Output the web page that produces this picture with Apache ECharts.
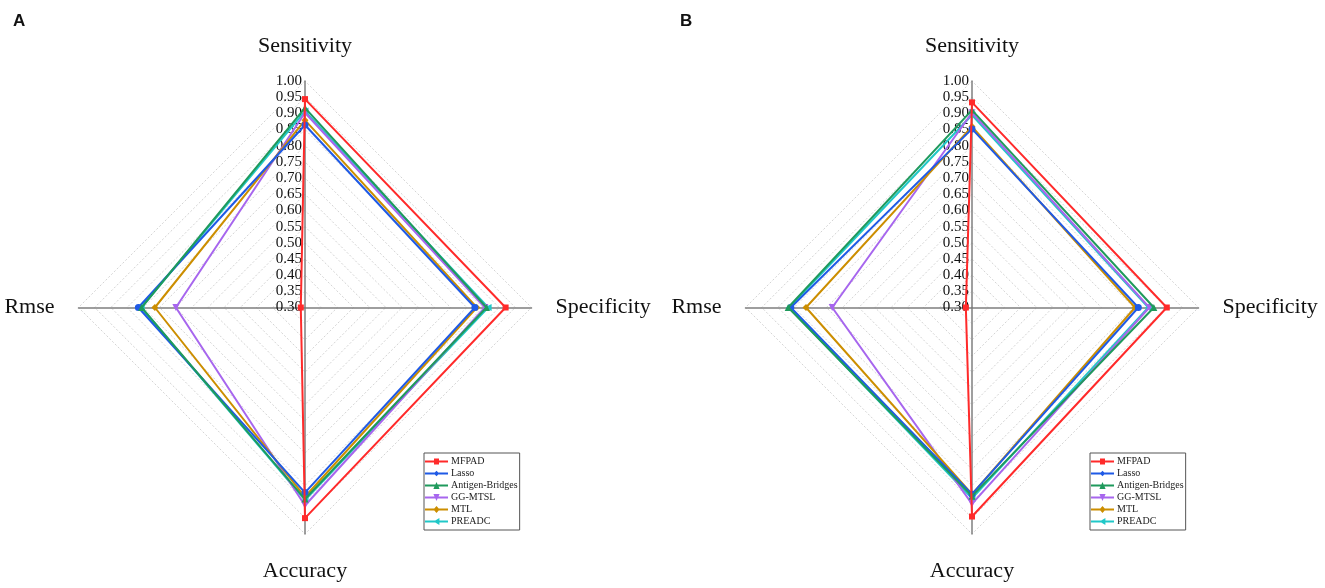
<!DOCTYPE html>
<html>
<head>
<meta charset="utf-8">
<script src="https://cdn.jsdelivr.net/npm/echarts@6/dist/echarts.min.js"></script>
<style>html,body{margin:0;padding:0;background:#fff}#c{width:1325px;height:588px}</style>
</head>
<body>
<div id="c"></div>
<script>
// Indicators in ECharts radar order (counter-clockwise from top)
const indicators = ['Sensitivity', 'Rmse', 'Accuracy', 'Specificity'];
const methods = ['MFPAD', 'Lasso', 'Antigen-Bridges', 'GG-MTSL', 'MTL', 'PREADC'];
const tickLabels = ['0.30','0.35','0.40','0.45','0.50','0.55','0.60','0.65','0.70','0.75','0.80','0.85','0.90','0.95','1.00'];

// Panel A values [Sensitivity, Rmse, Accuracy, Specificity]
const A_MFPAD = [0.944, 0.313, 0.951, 0.920];
const A_Lasso = [0.864, 0.815, 0.872, 0.825];
const A_Antigen = [0.917, 0.805, 0.892, 0.861];
const A_GGMTSL = [0.902, 0.699, 0.912, 0.856];
const A_MTL = [0.879, 0.764, 0.885, 0.831];
const A_PREADC = [0.907, 0.806, 0.895, 0.866];

// Panel B values [Sensitivity, Rmse, Accuracy, Specificity]
const B_MFPAD = [0.934, 0.319, 0.946, 0.902];
const B_Lasso = [0.852, 0.860, 0.877, 0.814];
const B_Antigen = [0.910, 0.868, 0.883, 0.862];
const B_GGMTSL = [0.902, 0.732, 0.907, 0.848];
const B_MTL = [0.859, 0.813, 0.877, 0.804];
const B_PREADC = [0.895, 0.865, 0.890, 0.845];

const colors = ['#ff2a2a', '#1f5ae6', '#1f9a5c', '#a766ee', '#cc8e00', '#20c8c8'];
const symbols = ['rect', 'circle', 'triangle', 'path://M0,0 L10,0 L5,9 Z', 'diamond', 'path://M0,5 L9,0 L9,10 Z'];
const zOrder = [8, 6, 7, 4, 5, 3];
// legend icons: line + marker, in a 23x7 box
const LINE = 'M0,2.6 L23,2.6 L23,4.4 L0,4.4 Z ';
const legendIcons = [
  'path://' + LINE + 'M9,0.6 L14,0.6 L14,6.4 L9,6.4 Z',
  'path://' + LINE + 'M11.5,0.8 L14.2,3.5 L11.5,6.2 L8.8,3.5 Z',
  'path://' + LINE + 'M11.5,0 L14.6,7 L8.4,7 Z',
  'path://' + LINE + 'M8.4,0 L14.6,0 L11.5,7 Z',
  'path://' + LINE + 'M11.5,0 L14.6,3.5 L11.5,7 L8.4,3.5 Z',
  'path://' + LINE + 'M8.6,3.5 L14.4,0 L14.4,7 Z'
];

const serif = '"Liberation Serif", "DejaVu Serif", serif';
const R = 226.5;
const centers = [[305, 307.5], [972, 307.5]];
const panelData = [
  [A_MFPAD, A_Lasso, A_Antigen, A_GGMTSL, A_MTL, A_PREADC],
  [B_MFPAD, B_Lasso, B_Antigen, B_GGMTSL, B_MTL, B_PREADC]
];

const nameBase = { fontFamily: serif, fontSize: 22, color: '#111' };
const nameRich = {
  t: Object.assign({ padding: [0, 0, 18, 0] }, nameBase),
  l: Object.assign({ padding: [0, 18, 0, 0] }, nameBase),
  b: Object.assign({ padding: [20, 0, 0, 0] }, nameBase),
  r: Object.assign({ padding: [0, 0, 0, 18] }, nameBase)
};
const nameKey = { 'Sensitivity': 't', 'Rmse': 'l', 'Accuracy': 'b', 'Specificity': 'r' };

function makeRadar(i) {
  return {
    center: centers[i],
    radius: R,
    startAngle: 90,
    shape: 'polygon',
    splitNumber: 14,
    indicator: indicators.map(n => ({ name: n, min: 0.3, max: 1.0 })),
    axisName: {
      formatter: n => '{' + nameKey[n] + '|' + n + '}',
      rich: nameRich, fontFamily: serif, fontSize: 22, color: '#111'
    },
    nameGap: 6,
    axisLine: { lineStyle: { color: '#7f7f7f', width: 1.5 } },
    splitLine: { lineStyle: { color: '#d4d4d4', width: 1, type: [2, 2] } },
    splitArea: { show: false },
    axisTick: { show: false },
    axisLabel: { show: false }
  };
}
function makePolar(i) {
  return { center: centers[i], radius: R };
}

const series = [];
for (let p = 0; p < 2; p++) {
  methods.forEach((m, k) => {
    series.push({
      type: 'radar',
      radarIndex: p,
      name: m,
      symbol: symbols[k],
      symbolSize: k === 0 ? 6 : 7,
      z: zOrder[k],
      itemStyle: { color: colors[k] },
      lineStyle: { color: colors[k], width: 2 },
      data: [{ value: panelData[p][k], name: m }]
    });
  });
}

function makeLegend(left) {
  return {
    orient: 'vertical',
    left: left, top: 453,
    data: methods.map((m, k) => ({ name: m, icon: legendIcons[k], itemStyle: { color: colors[k] } })),
    itemWidth: 23, itemHeight: 7, itemGap: 1,
    padding: [3, 2, 3, 1],
    borderColor: '#555', borderWidth: 1,
    textStyle: { fontFamily: serif, fontSize: 10, lineHeight: 11, color: '#222', padding: [0, 0, 0, -2] },
    selectedMode: false
  };
}

const option = {
  animation: false,
  backgroundColor: '#fff',
  title: [
    { text: 'A', left: 8, top: 8, textStyle: { fontFamily: '"Liberation Sans", Arial, sans-serif', fontWeight: 'bold', fontSize: 17, color: '#111' } },
    { text: 'B', left: 675, top: 8, textStyle: { fontFamily: '"Liberation Sans", Arial, sans-serif', fontWeight: 'bold', fontSize: 17, color: '#111' } }
  ],
  legend: [makeLegend(424), makeLegend(1090)],
  radar: [makeRadar(0), makeRadar(1)],
  polar: [makePolar(0), makePolar(1)],
  angleAxis: [0, 1].map(i => ({ polarIndex: i, show: false, startAngle: 90 })),
  radiusAxis: [0, 1].map(i => ({
    polarIndex: i,
    type: 'value', min: 0.3, max: 1.0, interval: 0.05,
    axisLine: { show: false }, axisTick: { show: false }, splitLine: { show: false },
    axisLabel: {
      show: true, fontFamily: serif, fontSize: 15, color: '#111', margin: 3,
      formatter: v => tickLabels[Math.round((v - 0.3) / 0.05)]
    }
  })),
  series: series
};

const chart = echarts.init(document.getElementById('c'), null, { renderer: 'canvas' });
chart.setOption(option);
</script>
</body>
</html>
